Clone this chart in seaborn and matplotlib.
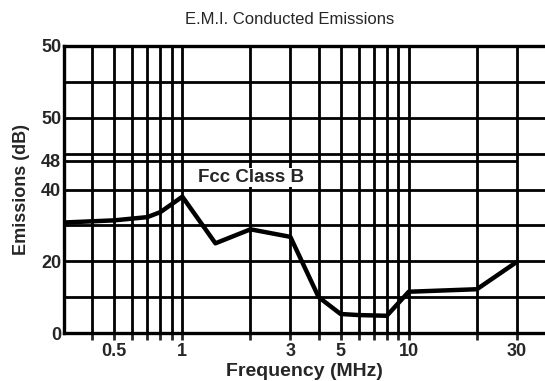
import numpy as np
import pandas as pd
import matplotlib
matplotlib.use("Agg")
import matplotlib.pyplot as plt
import seaborn as sns

# ── data ─────────────────────────────────────────────────────────
freq_mhz = [0.3, 0.5, 0.7, 0.8, 1.0, 1.4, 2.0, 3.0, 4.0, 5.0, 6.0, 8.0, 10.0, 20.0, 30.0]
emissions_db = [30.8, 31.4, 32.3, 33.7, 38.0, 25.0, 28.9, 26.8, 10.0, 5.3, 5.0, 4.8, 11.5, 12.2, 19.8]

fcc_limit = 48
fcc_span = [0.3, 30]

x_grid = [0.4, 0.5, 0.6, 0.7, 0.8, 0.9, 1, 2, 3, 4, 5, 6, 7, 8, 9, 10, 20, 30]
y_grid = [10, 20, 30, 40, 50, 60, 70, 80]

x_ticks = [0.5, 1, 3, 5, 10, 30]
x_labels = ["0.5", "1", "3", "5", "10", "30"]
y_ticks = [0, 20, 40, 48, 60, 80]
y_labels = ["0", "20", "40", "48", "50", "50"]   # labels as printed on the original

df = pd.DataFrame({"freq": freq_mhz, "db": emissions_db})

sns.set_style("white")
plt.rcParams["font.family"] = ["Liberation Sans", "DejaVu Sans"]

fig = plt.figure(figsize=(5.45, 3.81), dpi=100)
ax = fig.add_axes([64 / 545, 1 - 333 / 381, 1 - 64 / 545, (333 - 46) / 381])

# grid drawn by hand so tick labels can differ from grid positions
for x in x_grid:
    ax.axvline(x, color="black", lw=2.0, zorder=1)
for y in y_grid:
    ax.axhline(y, color="black", lw=2.0, zorder=1)
ax.hlines(fcc_limit, fcc_span[0], fcc_span[1], color="black", lw=2.0, zorder=1)

sns.lineplot(data=df, x="freq", y="db", color="black", lw=3.2, ax=ax, zorder=3)

ax.set_xscale("log")
ax.set_xlim(0.3, 40)
ax.set_ylim(0, 80)

ax.set_xticks(x_grid, minor=True)
ax.set_xticks(x_ticks, labels=x_labels)
ax.tick_params(axis="x", which="minor", labelbottom=False, length=5, width=2.0, direction="out", bottom=True)
ax.tick_params(axis="x", which="major", length=5, width=2.0, direction="out", bottom=True, labelsize=13, pad=2)
ax.set_yticks(y_ticks, labels=y_labels)
ax.tick_params(axis="y", length=0, labelsize=13, pad=2)
for lbl in ax.get_xticklabels() + ax.get_yticklabels():
    lbl.set_fontweight("bold")

for side in ["left", "bottom", "top"]:
    ax.spines[side].set_linewidth(2.4)
    ax.spines[side].set_color("black")
ax.spines["right"].set_visible(False)

ax.text(1.17, 43.3, "Fcc Class B", fontsize=13.5, fontweight="bold", va="center", ha="left",
        bbox=dict(facecolor="white", edgecolor="none", pad=1), zorder=4)

ax.set_title("E.M.I. Conducted Emissions", fontsize=12, x=0.47, pad=16)
ax.set_xlabel("Frequency (MHz)", fontsize=14, fontweight="bold", labelpad=2)
ax.set_ylabel("Emissions (dB)", fontsize=13, fontweight="bold", labelpad=8)

fig.savefig("out.png", dpi=100)
